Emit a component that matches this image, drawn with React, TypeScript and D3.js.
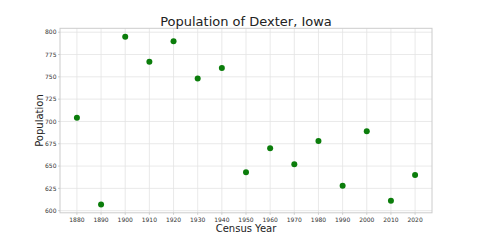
import React from "react";
import * as d3 from "d3";

const years = [1880, 1890, 1900, 1910, 1920, 1930, 1940, 1950, 1960, 1970, 1980, 1990, 2000, 2010, 2020];
const population = [704, 607, 795, 767, 790, 748, 760, 643, 670, 652, 678, 628, 689, 611, 640];
const yTicks = [600, 625, 650, 675, 700, 725, 750, 775, 800];
const xTicks = years;

const W = 480;
const H = 240;
const left = 60, right = 432, top = 28.3, bottom = 212.8;

export default function App() {
  const xMin = d3.min(years)!, xMax = d3.max(years)!;
  const yMin = d3.min(population)!, yMax = d3.max(population)!;
  const xPad = (xMax - xMin) * 0.05;
  const yPad = (yMax - yMin) * 0.05;
  const x = d3.scaleLinear().domain([xMin - xPad, xMax + xPad]).range([left, right]);
  const y = d3.scaleLinear().domain([yMin - yPad, yMax + yPad]).range([bottom, top]);
  const font = "DejaVu Sans, sans-serif";
  return (
    <svg width={W} height={H} style={{ position: "absolute", left: 0, top: 0, background: "#fff" }} fontFamily={font}>
      <rect x={0} y={0} width={W} height={H} fill="#fff" />
      {xTicks.map((t) => (
        <line key={"gx" + t} x1={x(t)} x2={x(t)} y1={top} y2={bottom} stroke="#e3e3e3" strokeWidth={0.8} />
      ))}
      {yTicks.map((t) => (
        <line key={"gy" + t} x1={left} x2={right} y1={y(t)} y2={y(t)} stroke="#e3e3e3" strokeWidth={0.8} />
      ))}
      <rect x={left} y={top} width={right - left} height={bottom - top} fill="none" stroke="#cccccc" strokeWidth={1} />
      {xTicks.map((t) => (
        <g key={"tx" + t}>
          <line x1={x(t)} x2={x(t)} y1={bottom} y2={bottom + 2} stroke="#bbbbbb" strokeWidth={0.7} />
          <text x={x(t)} y={bottom + 8.8} textAnchor="middle" fontSize={6} fill="#333">{t}</text>
        </g>
      ))}
      {yTicks.map((t) => (
        <g key={"ty" + t}>
          <line x1={left - 2} x2={left} y1={y(t)} y2={y(t)} stroke="#bbbbbb" strokeWidth={0.7} />
          <text x={left - 3.5} y={y(t) + 2.2} textAnchor="end" fontSize={6} fill="#333">{t}</text>
        </g>
      ))}
      {years.map((yr, i) => (
        <circle key={"p" + yr} cx={x(yr)} cy={y(population[i])} r={3} fill="#0b7d0b" />
      ))}
      <text x={(left + right) / 2} y={26} textAnchor="middle" fontSize={13} fill="#222">Population of Dexter, Iowa</text>
      <text x={(left + right) / 2} y={232} textAnchor="middle" fontSize={10} fill="#222">Census Year</text>
      <text transform={`translate(43.3,${(top + bottom) / 2}) rotate(-90)`} textAnchor="middle" fontSize={10} fill="#222">Population</text>
    </svg>
  );
}
